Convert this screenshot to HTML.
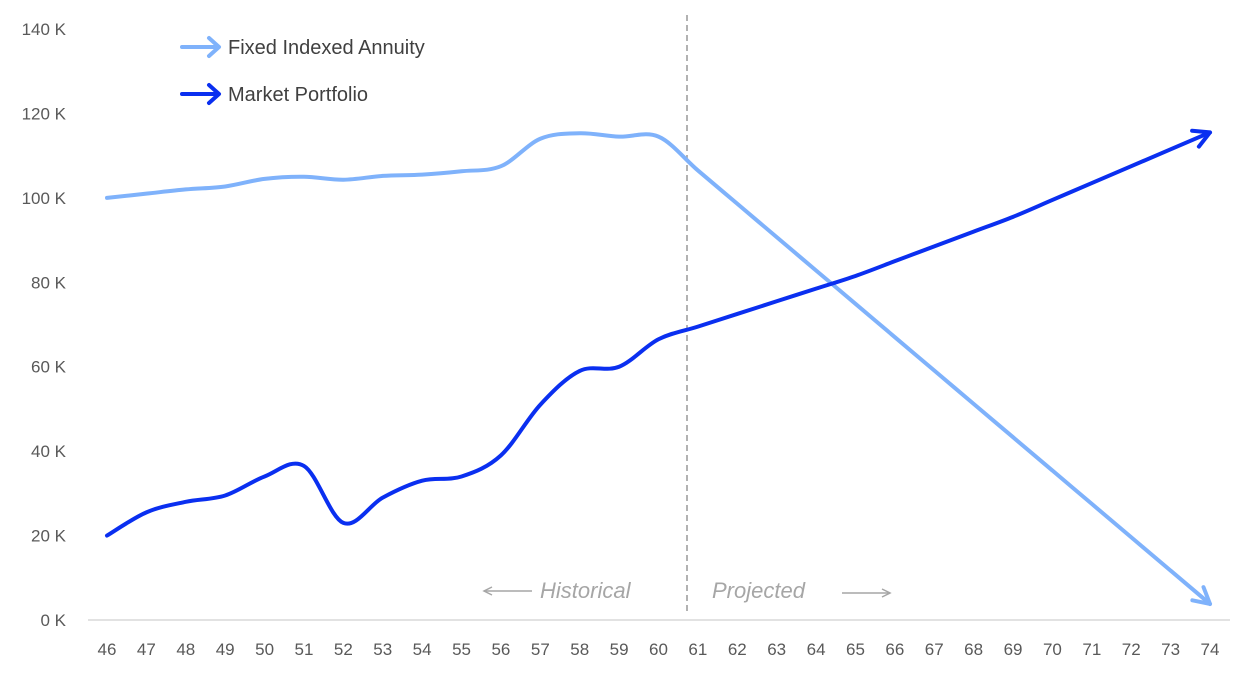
<!DOCTYPE html>
<html><head><meta charset="utf-8"><style>
html,body{margin:0;padding:0;background:#fff;}
svg{display:block;font-family:"Liberation Sans",sans-serif;}
</style></head><body>
<svg id="chart" width="1259" height="676"></svg>
<script>
const ages=[46,47,48,49,50,51,52,53,54,55,56,57,58,59,60,61,62,63,64,65,66,67,68,69,70,71,72,73,74];
const annuityValues=[100,101,102,102.7,104.5,105,104.3,105.2,105.5,106.3,107.5,114,115.3,114.5,114.5,106.5,98.6,90.7,82.8,74.9,67,59.1,51.2,43.3,35.4,27.5,19.6,11.7,3.8];
const marketValues=[20,25.5,28,29.5,34,36.5,23,29,33,34,39,51,59,60,66.5,69.5,72.5,75.5,78.5,81.5,85,88.5,92,95.5,99.5,103.5,107.5,111.5,115.5];
const yTicks=[0,20,40,60,80,100,120,140];
const yTickLabels=["0 K","20 K","40 K","60 K","80 K","100 K","120 K","140 K"];
const NS="http://www.w3.org/2000/svg";
const svg=document.getElementById('chart');
const x=a=>107+(a-46)*(1210-107)/28;
const y=v=>620-v*(620-29)/140;
function mk(t,attrs,parent){const e=document.createElementNS(NS,t);for(const k in attrs)e.setAttribute(k,attrs[k]);(parent||svg).appendChild(e);return e;}
// axis
const axis=mk('line',{x1:88,x2:1230,y1:620,y2:620,stroke:'#d9d9d9','stroke-width':1.5});


yTicks.forEach((v,i)=>{const t=mk('text',{x:66,y:y(v)+6,'text-anchor':'end','font-size':17,fill:'#595959'});t.textContent=yTickLabels[i];

});
ages.forEach(a=>{const t=mk('text',{x:x(a),y:655,'text-anchor':'middle','font-size':17,fill:'#595959'});t.textContent=a;

});
// divider
const dv=mk('line',{x1:687,x2:687,y1:15,y2:615,stroke:'#999','stroke-width':1.5,'stroke-dasharray':'6,4'});


function lbl(txt,tx,name){const t=mk('text',{x:tx,y:598,'font-size':22,'font-style':'italic',fill:'#a6a6a6'});t.textContent=txt;

}
lbl('Historical',540,'historical-label');lbl('Projected',712,'projected-label');
function arrowLine(x1,x2,yy,dir,name){const g=mk('g',{stroke:'#a6a6a6','stroke-width':1.5,fill:'none'});


mk('line',{x1:x1,x2:x2,y1:yy,y2:yy},g);const tip=dir>0?x2:x1;mk('path',{d:`M${tip-dir*8},${yy-4} L${tip},${yy} L${tip-dir*8},${yy+4}`},g);}
arrowLine(484,532,591,-1,'historical-arrow');arrowLine(842,890,593,1,'projected-arrow');
function smooth(pts){let d=`M${pts[0][0]},${pts[0][1]}`;for(let i=0;i<pts.length-1;i++){const p0=pts[i-1]||pts[i],p1=pts[i],p2=pts[i+1],p3=pts[i+2]||p2;
d+=` C${p1[0]+(p2[0]-p0[0])/6},${p1[1]+(p2[1]-p0[1])/6} ${p2[0]-(p3[0]-p1[0])/6},${p2[1]-(p3[1]-p1[1])/6} ${p2[0]},${p2[1]}`;}return d;}
function series(vals,color,name){const pts=ages.map((a,i)=>[x(a),y(vals[i])]);const g=mk('g',{});


mk('path',{d:smooth(pts),stroke:color,'stroke-width':4,fill:'none','stroke-linecap':'round'},g);
const n=pts.length,pe=pts[n-1],pp=pts[n-2];const ang=Math.atan2(pe[1]-pp[1],pe[0]-pp[0]);const L=18,w=0.5;
mk('path',{d:`M${pe[0]-L*Math.cos(ang-w)},${pe[1]-L*Math.sin(ang-w)} L${pe[0]},${pe[1]} L${pe[0]-L*Math.cos(ang+w)},${pe[1]-L*Math.sin(ang+w)}`,stroke:color,'stroke-width':4,fill:'none','stroke-linecap':'round','stroke-linejoin':'round'},g);}
series(annuityValues,'#7fb2fb','annuity-line');
series(marketValues,'#0a2ff0','market-line');
function legend(txt,color,ly,name){const g=mk('g',{});


mk('path',{d:`M182,${ly} L218,${ly} M209,${ly-9} L219,${ly} L209,${ly+9}`,stroke:color,'stroke-width':4,fill:'none','stroke-linecap':'round','stroke-linejoin':'round'},g);
const t=mk('text',{x:228,y:ly+7,'font-size':20,fill:'#404040'},g);t.textContent=txt;}
legend('Fixed Indexed Annuity','#7fb2fb',47,'legend-annuity');
legend('Market Portfolio','#0a2ff0',94,'legend-market');
</script>
</body></html>
